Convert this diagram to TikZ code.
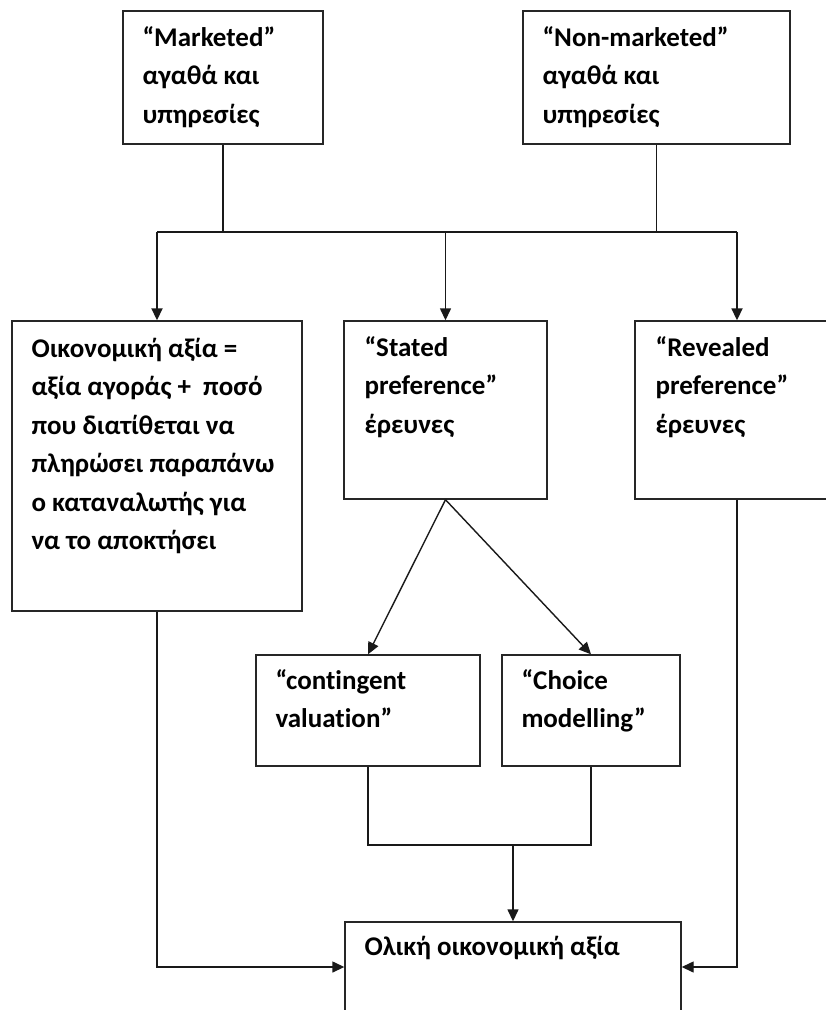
\documentclass[tikz,border=0pt]{standalone}
\usepackage{fontspec}
\setmainfont{Carlito}[Ligatures={NoCommon}]
\usetikzlibrary{arrows.meta}
\begin{document}
\begin{tikzpicture}[x=1pt,y=-1pt,
  box/.style={draw=black!85, line width=1.4pt, rectangle, inner sep=0pt},
  conn/.style={line width=1.4pt, draw=black!90},
  thickconn/.style={conn, line width=2.2pt},
  thinconn/.style={conn, line width=1pt},
  arr/.style={-{Triangle[length=12pt,width=11pt]}},
  lbl/.style={anchor=base west, inner sep=0pt, font=\bfseries\fontsize{27}{38.5}\selectfont}]
\useasboundingbox (0,0) rectangle (826,1010);
\clip (0,0) rectangle (826,1010);
\fill[white] (0,0) rectangle (826,1010);
% boxes
\node[box, minimum width=200pt, minimum height=133pt] (m) at (223,77.5) {};
\node[box, minimum width=267pt, minimum height=133pt] (n) at (656.5,77.5) {};
\node[box, minimum width=290pt, minimum height=290pt] (e) at (157,466) {};
\node[box, minimum width=203pt, minimum height=178pt] (s) at (445.5,410) {};
\node[box, minimum width=204pt, minimum height=178pt] (r) at (737,410) {};
\node[box, minimum width=224pt, minimum height=111pt] (c) at (368,710.5) {};
\node[box, minimum width=178pt, minimum height=111pt] (h) at (591,710.5) {};
\node[box, minimum width=336pt, minimum height=120pt] (t) at (513,982) {};
% texts
\node[lbl] (mT) at ([shift={(20,36)}]m.north west) {\parbox[t]{170pt}{“Marketed”\\αγαθά και\\υπηρεσίες}};
\node[lbl] (nT) at ([shift={(20,36)}]n.north west) {\parbox[t]{240pt}{“Non-marketed”\\αγαθά και\\υπηρεσίες}};
\node[lbl] (eT) at ([shift={(20,37)}]e.north west) {\parbox[t]{265pt}{Οικονομική αξία =\\αξία αγοράς +\ \ ποσό\\που διατίθεται να\\πληρώσει παραπάνω\\ο καταναλωτής για\\να το αποκτήσει}};
\node[lbl] (sT) at ([shift={(21,36)}]s.north west) {\parbox[t]{180pt}{“Stated\\preference”\\έρευνες}};
\node[lbl] (rT) at ([shift={(21,36)}]r.north west) {\parbox[t]{180pt}{“Revealed\\preference”\\έρευνες}};
\node[lbl] (cT) at ([shift={(20,35)}]c.north west) {\parbox[t]{200pt}{“contingent\\valuation”}};
\node[lbl] (hT) at ([shift={(20,35)}]h.north west) {\parbox[t]{160pt}{“Choice\\modelling”}};
\node[lbl] (tT) at ([shift={(20,34)}]t.north west) {\parbox[t]{310pt}{Ολική οικονομική αξία}};
% connector helpers
\coordinate (bus) at (0,232);
\coordinate (join) at (0,845);
\coordinate (low) at (0,967);
% top connectors
\draw[thickconn] (m.south) -- (m.south |- bus);
\draw[thinconn] (n.south) -- (n.south |- bus);
\draw[conn] (e.north |- bus) -- (m.south |- bus);
\draw[thickconn] (m.south |- bus) -- (s.north |- bus);
\draw[conn] (s.north |- bus) -- (r.north |- bus);
\draw[conn, line width=1.8pt, arr] (e.north |- bus) -- (e.north);
\draw[conn, arr] (s.north |- bus) -- (s.north);
\draw[conn, line width=1.8pt, arr] (r.north |- bus) -- (r.north);
% stated to methods
\draw[conn, arr] (s.south) -- (c.north);
\draw[conn, arr] (s.south) -- (h.north);
% methods to total
\draw[conn] (c.south) -- (c.south |- join) -- (h.south |- join) -- (h.south);
\draw[conn, arr] (t.north |- join) -- (t.north);
% side connectors to total
\draw[conn, arr] (e.south) -- (e.south |- low) -- (t.west |- low);
\draw[conn, arr] (r.south) -- (r.south |- low) -- (t.east |- low);
\end{tikzpicture}
\end{document}
